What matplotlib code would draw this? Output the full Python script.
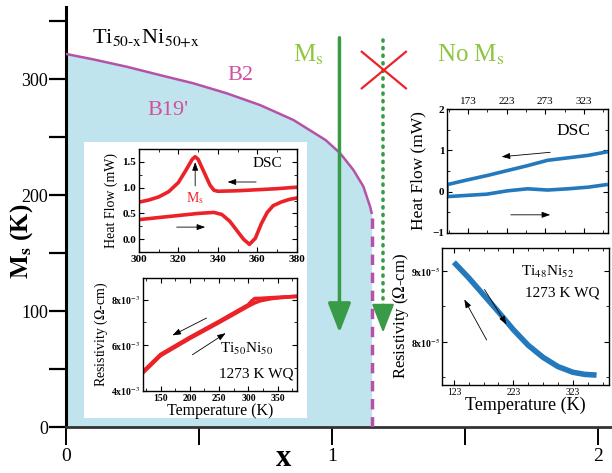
import matplotlib.pyplot as plt

plt.rcParams['font.family'] = ['Liberation Serif', 'DejaVu Serif']
plt.rcParams['mathtext.fontset'] = 'stix'

# main phase diagram: Ms boundary vs x
boundary_x = [0.0, 0.103, 0.228, 0.353, 0.479, 0.604, 0.729, 0.855, 0.976, 1.03, 1.08, 1.118, 1.143, 1.149]
boundary_ms = [321.6, 316.9, 310.6, 303.4, 296.3, 287.7, 277.6, 264.7, 247.4, 236.2, 221.8, 207.4, 190.2, 184.7]
x_edge = 1.149
main_xticks = [0, 1, 2]
main_yticks = [0, 100, 200, 300]

# left insets (Ti50Ni50)
dsc_cool_T = [300, 305, 310, 315, 320, 324, 327, 328.5, 330, 333, 336, 338, 340, 350, 360, 370, 380]
dsc_cool_q = [0.72, 0.76, 0.82, 0.92, 1.1, 1.35, 1.55, 1.6, 1.55, 1.3, 1.05, 0.95, 0.93, 0.94, 0.96, 0.98, 1.01]
dsc_heat_T = [300, 310, 320, 330, 338, 342, 346, 350, 353, 356, 359, 362, 365, 368, 372, 376, 380]
dsc_heat_q = [0.38, 0.42, 0.46, 0.50, 0.52, 0.48, 0.35, 0.15, 0.0, -0.1, 0.02, 0.3, 0.52, 0.65, 0.72, 0.77, 0.8]
res_cool_T = [120, 150, 200, 250, 300, 306, 311, 318, 330, 350, 380]
res_cool_r = [4.85, 5.6, 6.35, 7.05, 7.78, 7.95, 8.05, 8.05, 8.07, 8.1, 8.14]  # x1e-3
res_heat_T = [120, 150, 200, 250, 300, 310, 320, 340, 360, 380]
res_heat_r = [4.8, 5.55, 6.3, 7.0, 7.72, 7.85, 7.95, 8.05, 8.1, 8.14]

# right insets (Ti48Ni52)
dsc2_T = [351.5, 328.7, 302.5, 276, 250, 223.7, 197.5, 171, 146, 146, 171, 197.5, 223.7, 250, 276, 302.5, 328.7, 351.5]
dsc2_q = [0.96, 0.88, 0.82, 0.76, 0.63, 0.51, 0.39, 0.28, 0.17, -0.12, -0.09, -0.06, 0.02, 0.07, 0.04, 0.07, 0.11, 0.17]
res2_T = [123, 148, 173, 198, 223, 248, 273, 298, 323, 343, 363]
res2_r = [9.12, 8.9, 8.66, 8.42, 8.17, 7.95, 7.78, 7.65, 7.57, 7.54, 7.53]  # x1e-5

blue_fill = '#bfe4ed'
magenta = '#b552a8'
pink = '#d24f9f'
light_green = '#8dc63f'
dark_green = '#399a48'
red = '#ec2229'
blue = '#2479bd'

fig = plt.figure(figsize=(6.12, 4.73), dpi=100)
ax = fig.add_axes([0.108, 0.097, 0.892, 0.888])
ax.set_xlim(0, 2.053)
ax.set_ylim(0, 362)
for s in ['top', 'right']:
    ax.spines[s].set_visible(False)
ax.spines['left'].set_linewidth(2.2)
ax.spines['bottom'].set_linewidth(2.0)
ax.spines['bottom'].set_color('#333333')
ax.set_xticks(main_xticks)
ax.set_xticks([0.5, 1.5], minor=True)
ax.set_yticks(main_yticks)
ax.set_yticks([50, 150, 250, 350], minor=True)
ax.tick_params(axis='y', which='both', direction='out', length=12, width=1.6, labelsize=13, pad=1)
ax.tick_params(axis='x', which='both', direction='out', length=13, width=1.4, labelsize=14, pad=2)

# phase region
ax.fill_between(boundary_x, 0, boundary_ms, color=blue_fill, lw=0, zorder=1)
ax.plot(boundary_x, boundary_ms, color=magenta, lw=1.8, zorder=3)
ax.plot([x_edge, x_edge], [0, boundary_ms[-1]], color=magenta, lw=2.5,
        linestyle=(0, (3, 2.2)), zorder=3)

# white box behind left insets
ax.add_patch(plt.Rectangle((0.068, 7.8), 0.838, 238, facecolor='white',
                           edgecolor='none', zorder=4))

ax.text(0.098, 330, r'Ti$_{\text{50-x}}$Ni$_{\text{50+x}}$', fontsize=16, va='baseline')
ax.text(0.654, 299, 'B2', color=pink, fontsize=16, ha='center', va='baseline')
ax.text(0.384, 269, "B19'", color=pink, fontsize=16, ha='center', va='baseline')
ax.text(0.91, 315, r'M$_\mathrm{s}$', color=light_green, fontsize=18, ha='center', va='baseline')
ax.text(1.523, 315, r'No M$_\mathrm{s}$', color=light_green, fontsize=18, ha='center', va='baseline')

# Ms arrow and dotted "no Ms" arrow
ax.annotate('', xy=(1.028, 79), xytext=(1.028, 338),
            arrowprops=dict(arrowstyle='-|>,head_length=0.9,head_width=0.35',
                            color=dark_green, lw=2.5, mutation_scale=20), zorder=5)
ax.plot([1.192, 1.192], [334, 92], color=dark_green, lw=2.6,
        linestyle=(0, (0.3, 1.8)), dash_capstyle='round', zorder=5)
ax.annotate('', xy=(1.192, 79), xytext=(1.192, 95),
            arrowprops=dict(arrowstyle='-|>,head_length=0.9,head_width=0.35',
                            color=dark_green, lw=1.5, mutation_scale=20), zorder=5)
ax.plot([1.112, 1.278], [323.5, 292], color=red, lw=1.6, zorder=6)
ax.plot([1.112, 1.278], [292, 323.5], color=red, lw=1.6, zorder=6)

fig.text(284 / 612, 1 - 466 / 473, 'x', fontsize=22, fontweight='bold', ha='center', va='baseline')
fig.text(0.036, 1 - 241 / 473, r'$\mathbf{M_s}$ (K)', fontsize=18, fontweight='bold',
         rotation=90, ha='center', va='center')


def style_inset(a, size):
    for s in a.spines.values():
        s.set_linewidth(1.0)
    a.tick_params(which='both', direction='in', top=True, right=True, labelsize=size, pad=2)
    a.tick_params(which='major', length=3.5, width=0.8)
    a.tick_params(which='minor', length=2, width=0.6)
    for lab in a.get_xticklabels() + a.get_yticklabels():
        lab.set_fontweight('bold')


arrow_kw = dict(arrowstyle='-|>,head_length=0.5,head_width=0.18', color='black', lw=0.6,
                mutation_scale=10)

# left DSC inset
a1 = fig.add_axes([0.227, 0.467, 0.258, 0.218])
a1.plot(dsc_cool_T, dsc_cool_q, color=red, lw=2.6)
a1.plot(dsc_heat_T, dsc_heat_q, color=red, lw=2.6)
a1.set_xlim(300, 380)
a1.set_ylim(-0.25, 1.75)
a1.set_xticks([300, 320, 340, 360, 380])
a1.set_xticks([310, 330, 350, 370], minor=True)
a1.set_yticks([0, 0.5, 1.0, 1.5])
a1.set_yticklabels(['0.0', '0.5', '1.0', '1.5'])
a1.set_yticks([0.25, 0.75, 1.25], minor=True)
style_inset(a1, 8)
a1.set_ylabel('Heat Flow (mW)', fontsize=10, labelpad=3)
a1.text(365, 1.4, 'DSC', fontsize=11, ha='center')
a1.text(328.5, 0.72, r'M$_\mathrm{s}$', color=red, fontsize=10, ha='center')
a1.annotate('', xy=(328.5, 1.55), xytext=(328.5, 0.98), arrowprops=arrow_kw)
a1.annotate('', xy=(343.5, 1.11), xytext=(360.8, 1.11), arrowprops=arrow_kw)
a1.annotate('', xy=(335, 0.235), xytext=(317.7, 0.235), arrowprops=arrow_kw)

# left resistivity inset
a2 = fig.add_axes([0.2337, 0.1734, 0.2516, 0.239])
a2.plot(res_cool_T, res_cool_r, color=red, lw=2.6)
a2.plot(res_heat_T, res_heat_r, color=red, lw=2.6)
a2.set_xlim(120, 383)
a2.set_ylim(4.0, 8.95)
a2.set_xticks([150, 200, 250, 300, 350])
a2.set_xticks([125, 175, 225, 275, 325, 375], minor=True)
a2.set_yticks([4, 6, 8])
a2.set_yticklabels([r'4x10$^{-3}$', r'6x10$^{-3}$', r'8x10$^{-3}$'])
a2.set_yticks([5, 7], minor=True)
style_inset(a2, 7)
a2.set_ylabel(r'Resistivity ($\Omega$-cm)', fontsize=10, labelpad=1)
a2.set_xlabel('Temperature (K)', fontsize=11.5, labelpad=0)
a2.text(297, 5.86, r'Ti$_{50}$Ni$_{50}$', fontsize=11, ha='center', va='center')
a2.text(313, 4.73, '1273 K WQ', fontsize=11, ha='center', va='center')
a2.annotate('', xy=(166, 6.38), xytext=(232.7, 7.25), arrowprops=arrow_kw)
a2.annotate('', xy=(265.2, 6.6), xytext=(200.3, 5.52), arrowprops=arrow_kw)

# right DSC inset
a3 = fig.add_axes([0.7304, 0.5074, 0.263, 0.262])
a3.plot(dsc2_T, dsc2_q, color=blue, lw=2.6)
a3.set_xlim(146, 354)
a3.set_ylim(-1, 2)
a3.set_xticks([173, 223, 273, 323])
a3.set_xticks([148, 198, 248, 298, 348], minor=True)
a3.set_yticks([-1, 0, 1, 2])
a3.set_yticks([-0.5, 0.5, 1.5], minor=True)
style_inset(a3, 8)
a3.tick_params(labeltop=True, labelbottom=False)
for lab in a3.get_xticklabels():
    lab.set_fontweight('normal')
a3.set_ylabel('Heat Flow (mW)', fontsize=12.5, labelpad=4)
a3.text(309, 1.47, 'DSC', fontsize=12.5, ha='center', va='center')
a3.annotate('', xy=(213, 0.84), xytext=(283, 0.96), arrowprops=arrow_kw)
a3.annotate('', xy=(283, -0.56), xytext=(224.8, -0.56), arrowprops=arrow_kw)

# right resistivity inset
a4 = fig.add_axes([0.7222, 0.186, 0.273, 0.2896])
a4.plot(res2_T, res2_r, color=blue, lw=4, solid_capstyle='butt')
a4.set_xlim(103, 384)
a4.set_ylim(7.39, 9.32)
a4.set_xticks([123, 223, 323])
a4.set_xticks([148, 173, 198, 248, 273, 298, 348, 373], minor=True)
a4.set_yticks([8, 9])
a4.set_yticklabels([r'8x10$^{-5}$', r'9x10$^{-5}$'])
a4.set_yticks([7.5, 8.5], minor=True)
style_inset(a4, 7)
a4.tick_params(axis='y', pad=1)
for lab in a4.get_xticklabels():
    lab.set_fontweight('normal')
a4.set_ylabel(r'Resistivity ($\Omega$-cm)', fontsize=12, labelpad=0)
a4.set_xlabel('Temperature (K)', fontsize=13, labelpad=0)
a4.text(279.7, 8.98, r'Ti$_{48}$Ni$_{52}$', fontsize=11, ha='center', va='center')
a4.text(304.9, 8.69, '1273 K WQ', fontsize=11, ha='center', va='center')
a4.annotate('', xy=(214, 8.21), xytext=(172, 8.77), arrowprops=arrow_kw)
a4.annotate('', xy=(138.3, 8.63), xytext=(180.4, 7.99), arrowprops=arrow_kw)

fig.savefig('out.png', dpi=100)
